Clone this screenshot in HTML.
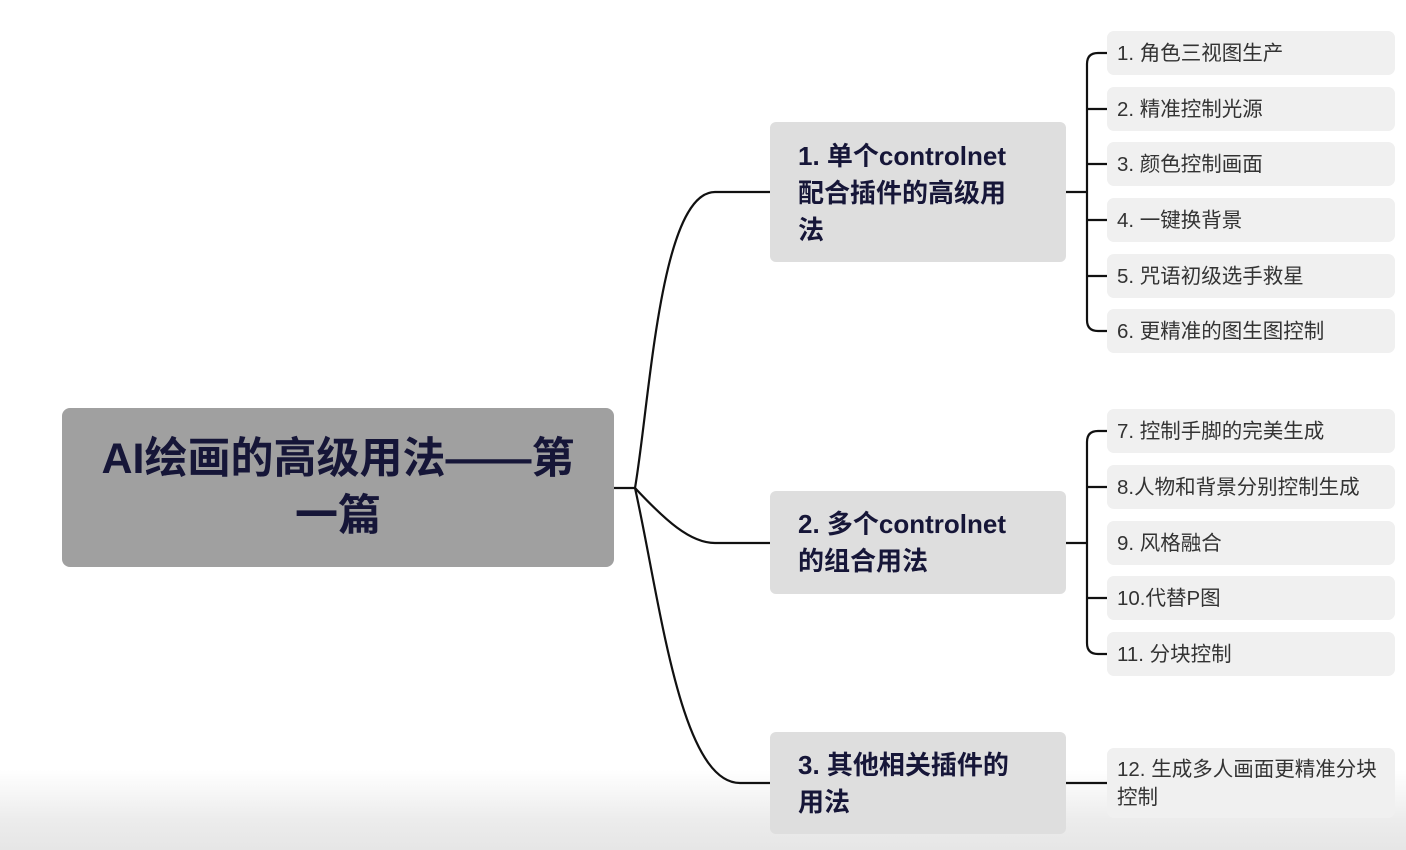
<!DOCTYPE html>
<html><head><meta charset="utf-8"><style>
html,body{margin:0;padding:0;width:1406px;height:850px;overflow:hidden;background:#fff}
body{background:linear-gradient(to bottom,#fff 0,#fff 770px,#ececec 820px,#e6e6e6 850px)}
.b{position:absolute;font-family:"Liberation Sans","Noto Sans CJK SC",sans-serif;box-sizing:border-box}
.root{left:62px;top:408px;width:552px;height:159px;background:#a0a0a0;border-radius:8px;color:#161638;font-weight:bold;font-size:43px;text-align:center;line-height:57px;padding-top:23px;white-space:nowrap}
.l1{left:770px;width:296px;background:#dedede;border-radius:6px;color:#161638;font-weight:bold;font-size:26px;line-height:37px;padding-left:28px;white-space:nowrap}
.lf{left:1107px;width:288px;height:44px;background:#f0f0f0;border-radius:7px;color:#333;font-size:20.5px;line-height:46px;padding-left:10px;white-space:nowrap}
</style></head><body>
<svg width="1406" height="850" style="position:absolute;left:0;top:0" fill="none" stroke="#111" stroke-width="2.2">
<path d="M614 488 H635"/>
<path d="M635 488 C650 400,660 192,715 192 H770"/>
<path d="M635 488 C665 520,690 543,715 543 H770"/>
<path d="M635 488 C660 600,680 783,740 783 H770"/>
<path d="M1066 192 H1087 M1066 543 H1087 M1066 783 H1107"/>
<path d="M1107 53 H1098 Q1087 53 1087 64 V320 Q1087 331 1098 331 H1107"/>
<path d="M1087 109 H1107 M1087 164 H1107 M1087 220 H1107 M1087 276 H1107"/>
<path d="M1107 431 H1098 Q1087 431 1087 442 V643 Q1087 654 1098 654 H1107"/>
<path d="M1087 487 H1107 M1087 598 H1107"/>
</svg>
<div class="b root">AI绘画的高级用法——第<br>一篇</div>
<div class="b l1" style="top:122px;height:140px;padding-top:16px">1. 单个controlnet<br>配合插件的高级用<br>法</div>
<div class="b l1" style="top:491px;height:103px;padding-top:15px">2. 多个controlnet<br>的组合用法</div>
<div class="b l1" style="top:732px;height:102px;padding-top:15px">3. 其他相关插件的<br>用法</div>
<div class="b lf" style="top:31px">1. 角色三视图生产</div>
<div class="b lf" style="top:87px">2. 精准控制光源</div>
<div class="b lf" style="top:142px">3. 颜色控制画面</div>
<div class="b lf" style="top:198px">4. 一键换背景</div>
<div class="b lf" style="top:254px">5. 咒语初级选手救星</div>
<div class="b lf" style="top:309px">6. 更精准的图生图控制</div>
<div class="b lf" style="top:409px">7. 控制手脚的完美生成</div>
<div class="b lf" style="top:465px">8.人物和背景分别控制生成</div>
<div class="b lf" style="top:521px">9. 风格融合</div>
<div class="b lf" style="top:576px">10.代替P图</div>
<div class="b lf" style="top:632px">11. 分块控制</div>
<div class="b lf" style="top:748px;height:70px;line-height:28px;padding-top:8px">12. 生成多人画面更精准分块<br>控制</div>
</body></html>
